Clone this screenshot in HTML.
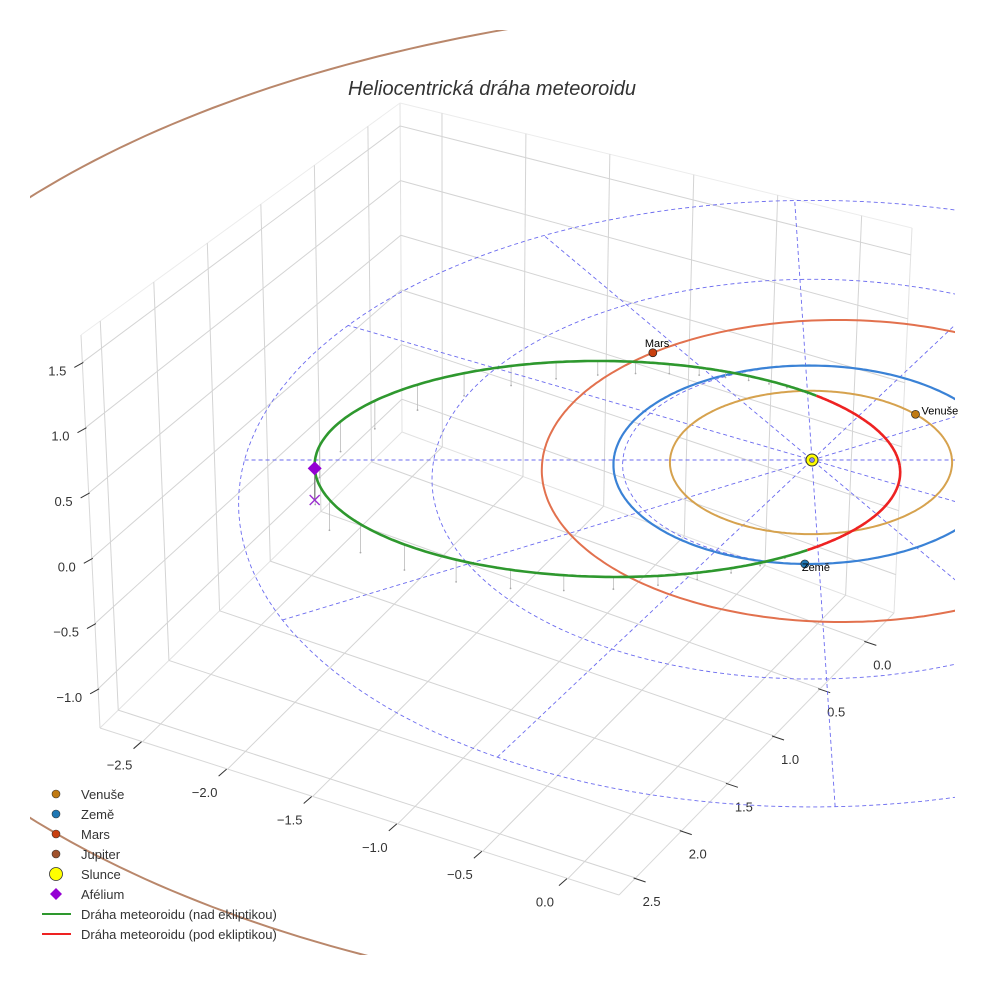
<!DOCTYPE html>
<html><head><meta charset="utf-8"><style>
html,body{margin:0;padding:0;background:#fff;}
svg{display:block;font-family:"Liberation Sans",sans-serif;}
</style></head><body>
<svg id="chart" width="984" height="984" viewBox="0 0 984 984">
<defs><clipPath id="clip"><rect x="30" y="30" width="925" height="925"/></clipPath></defs>
<g id="box"></g>
<g id="plot" clip-path="url(#clip)"></g>
<g id="marks"></g>
<text x="492" y="95" text-anchor="middle" font-size="20" font-style="italic" fill="#333">Heliocentrická dráha meteoroidu</text>
<g id="legend"></g>
</svg>
<script>
// ---- data ----
const xTicks=[-2.5,-2.0,-1.5,-1.0,-0.5,0.0];
const yTicks=[0.0,0.5,1.0,1.5,2.0,2.5];
const zTicks=[-1.0,-0.5,0.0,0.5,1.0,1.5];
const planetNames=['Venuše','Země','Mars','Jupiter'];
const planetA=[0.723,1.0,1.524,5.203];
const planetE=[0.007,0.017,0.093,0.048];
const planetPeri=[0,0,180,180];
const planetLon=[41,268,127,200];
const planetColors=['#c07a12','#1f77b4','#c8400f','#a0522d'];
const orbitColors=['#d6a24e','#3a82d6','#e2714e','#b9876b'];
const metA=[1.49];
const metE=[0.70];
const metPeri=[9];
const metNode=[88];
const metIncl=[5.5];
const gridRadii=[1,2,3];
const gridAngles=[0,30,61,92,122,151];

const NS='http://www.w3.org/2000/svg';
function el(tag,attrs,parent){const e=document.createElementNS(NS,tag);for(const k in attrs)e.setAttribute(k,attrs[k]);parent.appendChild(e);return e;}
const boxG=document.getElementById('box'),plotG=document.getElementById('plot'),marksG=document.getElementById('marks'),legG=document.getElementById('legend');

// ---- ecliptic projection ----
const CX=812,CY=460,SX=195,SY=99,PC=0.048,ZS=130;
function P(u,v,z){z=z||0;const d=1+PC*v;return [CX+SX*u/d, CY-(SY*v+ZS*z)/d];}
function rad(d){return d*Math.PI/180;}
function pts(a){return a.map(p=>p[0].toFixed(1)+','+p[1].toFixed(1)).join(' ');}

// ---- axes box (matplotlib 3D panes) ----
const XR=[-2.75,0.3],YR=[-0.3,2.68],ZR=[-1.3,1.71];
const C={
 '000':[402,432],'010':[100,728],'110':[619,895],'100':[894,613],
 '001':[400,103],'011':[81,335],'101':[912,228],'111':[600,502]};
function box(x,y,z){
 const a=(x-XR[0])/(XR[1]-XR[0]),b=(y-YR[0])/(YR[1]-YR[0]),c=(z-ZR[0])/(ZR[1]-ZR[0]);
 let sx=0,sy=0;
 for(const i of [0,1])for(const j of [0,1])for(const k of [0,1]){
  const w=(i?a:1-a)*(j?b:1-b)*(k?c:1-c);const p=C[''+i+j+k];sx+=w*p[0];sy+=w*p[1];}
 return [sx,sy];}
function gl(p,q,name,col){const l=el('line',{x1:p[0],y1:p[1],x2:q[0],y2:q[1],stroke:col||'#d4d4d4','stroke-width':1},boxG);
 }
gl(box(XR[0],YR[0],ZR[0]),box(XR[0],YR[1],ZR[0]),'pane-edge','#e2e2e2');
gl(box(XR[0],YR[0],ZR[0]),box(XR[1],YR[0],ZR[0]),'pane-edge','#e2e2e2');
gl(box(XR[0],YR[0],ZR[0]),box(XR[0],YR[0],ZR[1]),'pane-edge','#e2e2e2');
gl(box(XR[0],YR[1],ZR[0]),box(XR[1],YR[1],ZR[0]),'x-axis-line','#d8d8d8');
gl(box(XR[1],YR[1],ZR[0]),box(XR[1],YR[0],ZR[0]),'y-axis-line','#d8d8d8');
gl(box(XR[0],YR[1],ZR[0]),box(XR[0],YR[1],ZR[1]),'z-axis-line','#d8d8d8');
gl(box(XR[0],YR[1],ZR[1]),box(XR[0],YR[0],ZR[1]),'pane-edge','#ececec');
gl(box(XR[0],YR[0],ZR[1]),box(XR[1],YR[0],ZR[1]),'pane-edge','#ececec');
gl(box(XR[1],YR[0],ZR[0]),box(XR[1],YR[0],ZR[1]),'pane-edge','#e2e2e2');
xTicks.forEach(x=>{
 gl(box(x,YR[0],ZR[0]),box(x,YR[1],ZR[0]),'x-grid-floor');
 gl(box(x,YR[0],ZR[0]),box(x,YR[0],ZR[1]),'x-grid-wall');
 const p=box(x,YR[1],ZR[0]);
 gl([p[0]-1,p[1]],[p[0]-9,p[1]+7],'x-tick','#333');
 const t=el('text',{x:p[0]-23,y:p[1]+28,'text-anchor':'middle','font-size':13,fill:'#333'},boxG);
 t.textContent=(x<0?'\u2212':'')+Math.abs(x).toFixed(1);
 
});
yTicks.forEach(y=>{
 gl(box(XR[0],y,ZR[0]),box(XR[1],y,ZR[0]),'y-grid-floor');
 gl(box(XR[0],y,ZR[0]),box(XR[0],y,ZR[1]),'y-grid-wall');
 const p=box(XR[1],y,ZR[0]);
 gl([p[0]-2,p[1]],[p[0]+10,p[1]+4],'y-tick','#333');
 const t=el('text',{x:p[0]+16,y:p[1]+28,'text-anchor':'middle','font-size':13,fill:'#333'},boxG);
 t.textContent=y.toFixed(1);
 
});
zTicks.forEach(z=>{
 gl(box(XR[0],YR[0],z),box(XR[0],YR[1],z),'z-grid-left');
 gl(box(XR[0],YR[0],z),box(XR[1],YR[0],z),'z-grid-back');
 const p=box(XR[0],YR[1],z);
 gl([p[0]+1,p[1]],[p[0]-8,p[1]+5],'z-tick','#333');
 const t=el('text',{x:p[0]-16,y:p[1]+13,'text-anchor':'end','font-size':13,fill:'#333'},boxG);
 t.textContent=(z<0?'\u2212':'')+Math.abs(z).toFixed(1);
 
});

// ---- ecliptic reference grid ----
gridRadii.forEach(r=>{
 const a=[];for(let t=0;t<=360;t+=2)a.push(P(r*0.97*Math.cos(rad(t)),r*Math.sin(rad(t))));
 const pl=el('polyline',{points:pts(a),fill:'none',stroke:'#6b6bef','stroke-width':0.9,'stroke-dasharray':'4,3'},plotG);
 
});
gridAngles.forEach(an=>{
 const R=3,c=Math.cos(rad(an)),s=Math.sin(rad(an));
 const p=P(-R*0.97*c,-R*s),q=P(R*0.97*c,R*s);
 const l=el('line',{x1:p[0],y1:p[1],x2:q[0],y2:q[1],stroke:'#6b6bef','stroke-width':0.9,'stroke-dasharray':'4,3'},plotG);
 
});

// ---- planet orbits ----
function pr(i,t){const a=planetA[i],e=planetE[i];return a*(1-e*e)/(1+e*Math.cos(rad(t-planetPeri[i])));}
function ppos(i,t){const r=pr(i,t);const u=r*Math.cos(rad(t)),v=r*Math.sin(rad(t));
 if(i===3)return [CX+202*u,507.5-97.8*v];return P(u,v);}
planetNames.forEach((n,i)=>{
 const a=[];for(let t=0;t<=360;t+=1)a.push(ppos(i,t));
 const pl=el('polyline',{points:pts(a),fill:'none',stroke:orbitColors[i],'stroke-width':i===1?2.2:2},plotG);
 
 
});

// ---- meteoroid orbit ----
const mp=metA[0]*(1-metE[0]*metE[0]);
function mpos(t,flat){const r=mp/(1+metE[0]*Math.cos(rad(t-metPeri[0])));
 const z=flat?0:r*Math.sin(rad(metIncl[0]))*Math.sin(rad(t-metNode[0]));
 return {p:P(r*Math.cos(rad(t)),r*Math.sin(rad(t)),z),z:z};}
for(let t=metNode[0]+6;t<metNode[0]+180;t+=6){
 const a=mpos(t,false).p,b=mpos(t,true).p;
 const l=el('line',{x1:a[0],y1:a[1],x2:b[0],y2:b[1],stroke:'#bbb','stroke-width':0.8},plotG);
 
 const d=el('circle',{cx:b[0],cy:b[1],r:0.9,fill:'#aaa'},plotG);
 
}
let seg=[],segUp=null;
function flush(){if(seg.length>1){const pl=el('polyline',{points:pts(seg),fill:'none',stroke:segUp?'#2e982e':'#ee2222','stroke-width':2.6},plotG);
 }}
for(let t=0;t<=360;t+=0.5){const m=mpos(t,false);const up=m.z>=0;
 if(segUp===null)segUp=up;
 if(up!==segUp){seg.push(m.p);flush();seg=[m.p];segUp=up;}else seg.push(m.p);}
flush();

// ---- markers ----
const aph=metPeri[0]+180;const A=mpos(aph,false).p,A0=mpos(aph,true).p;
let l=el('line',{x1:A[0],y1:A[1],x2:A0[0],y2:A0[1],stroke:'#777','stroke-width':1},marksG);

let x1=el('path',{d:`M${A0[0]-5},${A0[1]-5}L${A0[0]+5},${A0[1]+5}M${A0[0]-5},${A0[1]+5}L${A0[0]+5},${A0[1]-5}`,stroke:'#9b30d0','stroke-width':1.4},marksG);

let dm=el('path',{d:`M${A[0]},${A[1]-7}L${A[0]+7},${A[1]}L${A[0]},${A[1]+7}L${A[0]-7},${A[1]}Z`,fill:'#9400d3'},marksG);

const labOff=[[6,0],[-3,7],[-8,-6]];
[0,1,2].forEach(i=>{const p=ppos(i,planetLon[i]);
 const c=el('circle',{cx:p[0],cy:p[1],r:4,fill:planetColors[i],stroke:'#222','stroke-width':0.7},marksG);
 
 const t=el('text',{x:p[0]+labOff[i][0],y:p[1]+labOff[i][1],'font-size':11,fill:'#000'},marksG);
 t.textContent=planetNames[i];});
const sun=P(0,0);
let s=el('circle',{cx:sun[0],cy:sun[1],r:6,fill:'#ffff00',stroke:'#333','stroke-width':1},marksG);

s=el('circle',{cx:sun[0],cy:sun[1],r:2.5,fill:'#8888ee',stroke:'#444','stroke-width':0.6},marksG);


// ---- legend ----
const legLabels=['Venuše','Země','Mars','Jupiter','Slunce','Afélium','Dráha meteoroidu (nad ekliptikou)','Dráha meteoroidu (pod ekliptikou)'];
legLabels.forEach((lab,i)=>{const y=794+i*20;let m;
 if(i<4)m=el('circle',{cx:56,cy:y,r:4,fill:planetColors[i],stroke:'#333','stroke-width':0.6},legG);
 else if(i===4)m=el('circle',{cx:56,cy:y,r:6.5,fill:'#ffff00',stroke:'#333','stroke-width':0.8},legG);
 else if(i===5)m=el('path',{d:`M56,${y-6}L62,${y}L56,${y+6}L50,${y}Z`,fill:'#9400d3'},legG);
 else m=el('line',{x1:42,y1:y,x2:71,y2:y,stroke:i===6?'#2e982e':'#ee2222','stroke-width':2},legG);
 
 const t=el('text',{x:81,y:y+5,'font-size':13,fill:'#333'},legG);t.textContent=lab;
 });
</script>
</body></html>
